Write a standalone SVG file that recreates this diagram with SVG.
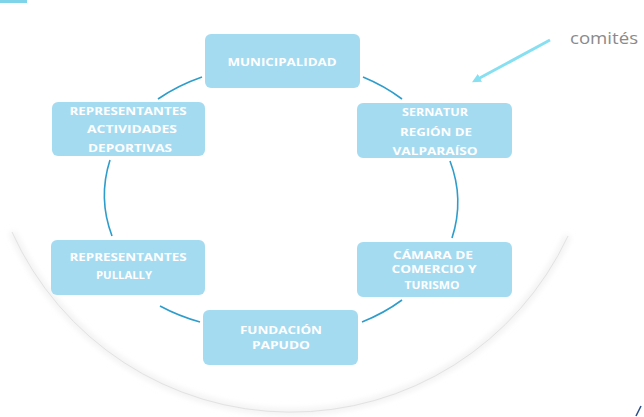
<svg xmlns="http://www.w3.org/2000/svg" width="644" height="417" viewBox="0 0 644 417">
  <style>
    .box { fill: #a5dbf1; }
    .lbl { fill: #ffffff; font-family: "Open Sans", "Liberation Sans", sans-serif; font-weight: bold; font-size: 10px; text-anchor: middle; }
    .conn { fill: none; stroke: #2e9dcb; stroke-width: 1.6; }
  </style>
  <defs>
    <filter id="soft" x="-10%" y="-10%" width="120%" height="120%">
      <feGaussianBlur stdDeviation="3"/>
    </filter>
    <marker id="head" viewBox="0 0 10 10" refX="5" refY="5" markerWidth="3" markerHeight="3" orient="auto-start-reverse">
      <path d="M0,0 L10,5 L0,10 z" fill="#86e0f1"/>
    </marker>
  </defs>
  <rect width="644" height="417" fill="#ffffff"/>
  <rect x="0" y="0" width="27" height="3" fill="#7fd4ea"/>
  <line x1="636" y1="416" x2="641" y2="406" stroke="#2b4f8a" stroke-width="1.5"/>

  <g id="backdrop">
    <path d="M12,232 A306,306 0 0,0 568,236" fill="none" stroke="#ededed" stroke-width="5" filter="url(#soft)"/>
    <path d="M12,232 A306,306 0 0,0 568,236" fill="none" stroke="#e2e2e2" stroke-width="1"/>
  </g>

  <g id="connectors">
    <path class="conn" d="M158,99 A173,140 0 0,1 202,77"/>
    <path class="conn" d="M363,77 A173,140 0 0,1 402,99"/>
    <path class="conn" d="M450,161 A173,140 0 0,1 452,238"/>
    <path class="conn" d="M402,300 A173,140 0 0,1 362,322"/>
    <path class="conn" d="M200,322 A173,140 0 0,1 160,306"/>
    <path class="conn" d="M112,236 A173,140 0 0,1 110,160"/>
    <line x1="550" y1="40" x2="476" y2="80" stroke="#86e0f1" stroke-width="3" marker-end="url(#head)"/>
  </g>

  <g id="municipalidad">
    <rect class="box" x="205" y="34" width="155" height="54" rx="6"/>
    <text class="lbl" x="282" y="66" textLength="109" lengthAdjust="spacingAndGlyphs">MUNICIPALIDAD</text>
  </g>
  <g id="sernatur">
    <rect class="box" x="357" y="103" width="155" height="55" rx="6"/>
    <text class="lbl" x="435" y="116" textLength="66" lengthAdjust="spacingAndGlyphs">SERNATUR</text>
    <text class="lbl" x="436" y="136" textLength="72" lengthAdjust="spacingAndGlyphs">REGIÓN DE</text>
    <text class="lbl" x="435" y="155" textLength="85" lengthAdjust="spacingAndGlyphs">VALPARAÍSO</text>
  </g>
  <g id="camara">
    <rect class="box" x="357" y="242" width="155" height="55" rx="6"/>
    <text class="lbl" x="433" y="259" textLength="80" lengthAdjust="spacingAndGlyphs">CÁMARA DE</text>
    <text class="lbl" x="434" y="273" textLength="85" lengthAdjust="spacingAndGlyphs">COMERCIO Y</text>
    <text class="lbl" x="432" y="289" textLength="55" lengthAdjust="spacingAndGlyphs">TURISMO</text>
  </g>
  <g id="fundacion">
    <rect class="box" x="203" y="310" width="155" height="55" rx="6"/>
    <text class="lbl" x="281" y="334" textLength="82" lengthAdjust="spacingAndGlyphs">FUNDACIÓN</text>
    <text class="lbl" x="281" y="349" textLength="58" lengthAdjust="spacingAndGlyphs">PAPUDO</text>
  </g>
  <g id="pullally">
    <rect class="box" x="51" y="240" width="154" height="55" rx="6"/>
    <text class="lbl" x="128" y="261" textLength="117" lengthAdjust="spacingAndGlyphs">REPRESENTANTES</text>
    <text class="lbl" x="124" y="279" textLength="56" lengthAdjust="spacingAndGlyphs">PULLALLY</text>
  </g>
  <g id="actividades">
    <rect class="box" x="52" y="102" width="153" height="54" rx="6"/>
    <text class="lbl" x="128" y="115" textLength="117" lengthAdjust="spacingAndGlyphs">REPRESENTANTES</text>
    <text class="lbl" x="132" y="133" textLength="90" lengthAdjust="spacingAndGlyphs">ACTIVIDADES</text>
    <text class="lbl" x="130" y="152" textLength="84" lengthAdjust="spacingAndGlyphs">DEPORTIVAS</text>
  </g>
  <g id="comites">
    <text x="570" y="44" font-family="'Open Sans', 'Liberation Sans', sans-serif" font-size="17" fill="#8a8a8a" textLength="68" lengthAdjust="spacingAndGlyphs">comités</text>
  </g>
</svg>
